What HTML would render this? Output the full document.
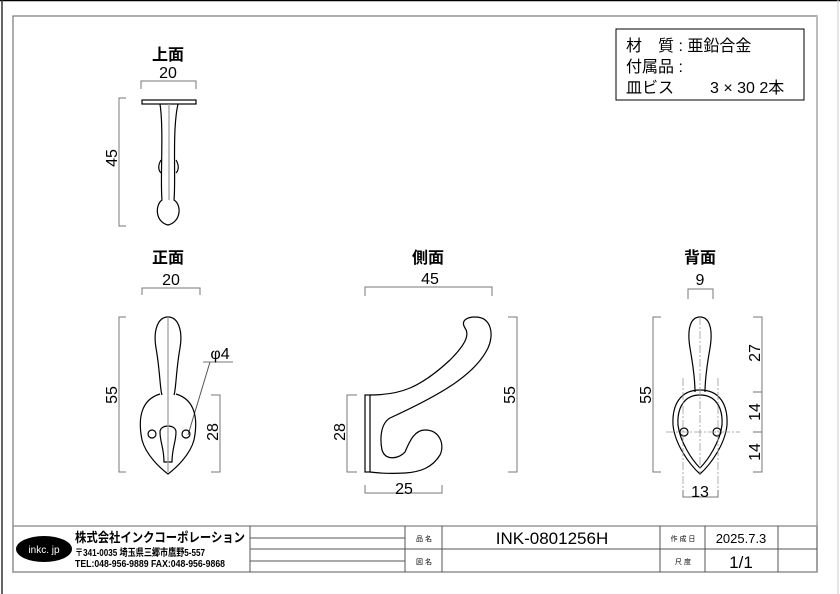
<!DOCTYPE html>
<html><head><meta charset="utf-8"><style>
html,body{margin:0;padding:0;background:#fff;}
svg{display:block;}
text{font-family:"Liberation Sans","Noto Sans CJK JP",sans-serif;fill:#000;}
</style></head><body>
<svg width="840" height="594" viewBox="0 0 840 594" xmlns="http://www.w3.org/2000/svg">
<line x1="0" y1="0.5" x2="840" y2="0.5" stroke="#000" stroke-width="1.5"/>
<line x1="2" y1="0" x2="2" y2="594" stroke="#333" stroke-width="1.5"/>
<line x1="838" y1="0" x2="838" y2="594" stroke="#ccc" stroke-width="1"/>
<rect x="13" y="16" width="804" height="556" fill="none" stroke="#777" stroke-width="1.2"/>
<line x1="817" y1="16" x2="817" y2="572" stroke="#bbb" stroke-width="2"/>

<rect x="616" y="29" width="188" height="71" fill="none" stroke="#000" stroke-width="1"/>
<text x="626" y="51" font-size="16">材　質 : 亜鉛合金</text>
<text x="626" y="72" font-size="16">付属品 :</text>
<text x="626" y="93" font-size="16">皿ビス</text>
<text x="710" y="93" font-size="16">3 × 30  2本</text>

<g fill="none" stroke="#777" stroke-width="1">
<polyline points="141,89 141,81 196,81 196,89"/>
<polyline points="126,98 119,98 119,226 126,226"/>
<polyline points="142,295 142,288 200,288 200,295"/>
<polyline points="126,317 119,317 119,472 126,472"/>
<polyline points="211,395 220,395 220,472 211,472"/>
<line x1="203" y1="362" x2="233" y2="362"/>
<line x1="210" y1="362" x2="188" y2="435" stroke="#555"/>
<polyline points="365,296 365,287 492,287 492,296"/>
<polyline points="365,485 365,493 442,493 442,485"/>
<polyline points="357,395 347,395 347,472 357,472"/>
<polyline points="508,317 517,317 517,472 508,472"/>
<polyline points="688,299 688,289 713,289 713,299"/>
<polyline points="661,317 653,317 653,472 661,472"/>
<polyline points="753,317 762,317 762,472 753,472"/>
<line x1="753" y1="392" x2="762" y2="392"/>
<line x1="753" y1="432" x2="762" y2="432"/>
<polyline points="683,490 683,497 718,497 718,490"/>
</g>

<g font-size="16" text-anchor="middle">
<text x="168" y="60" font-weight="bold">上面</text>
<text x="168" y="78">20</text>
<text x="168" y="263" font-weight="bold">正面</text>
<text x="171" y="285">20</text>
<text x="428" y="263" font-weight="bold">側面</text>
<text x="430" y="284">45</text>
<text x="404" y="494">25</text>
<text x="700" y="263" font-weight="bold">背面</text>
<text x="700" y="285">9</text>
<text x="700" y="497">13</text>
<text x="220" y="359">φ4</text>
<text transform="translate(117,158) rotate(-90)">45</text>
<text transform="translate(117,395) rotate(-90)">55</text>
<text transform="translate(218,432) rotate(-90)">28</text>
<text transform="translate(345,432) rotate(-90)">28</text>
<text transform="translate(515,395) rotate(-90)">55</text>
<text transform="translate(651,395) rotate(-90)">55</text>
<text transform="translate(760,353) rotate(-90)">27</text>
<text transform="translate(760,412) rotate(-90)">14</text>
<text transform="translate(760,452) rotate(-90)">14</text>
</g>

<g fill="none" stroke="#000" stroke-width="1.2">
<rect x="142" y="100" width="54" height="4"/>
<path d="M160,104 C164,130 160,180 162,200 C155,205 155,222 168,225 C181,222 182,205 174,200 C176,180 172,130 178,104"/>
<line x1="169" y1="104" x2="169" y2="200" stroke="#999"/>
<path d="M161,160 C158,165 158,170 161,173 M176,160 C179,165 179,170 176,173"/>
<path d="M168,317 C158,317 153,330 156,348 C160,370 160,390 162,395"/>
<path d="M168,317 C178,317 183,330 180,348 C176,370 176,390 174,395"/>
<path d="M160,394 C140,400 138,420 142,440 C146,455 160,468 168,474 C176,468 190,455 194,440 C198,420 196,400 176,394"/>
<path d="M160,432 C160,424 176,424 176,432 C176,442 172,448 172,462 L164,462 C164,448 160,442 160,432 Z"/>
<line x1="168" y1="317" x2="168" y2="472" stroke="#999"/>
<circle cx="152" cy="434" r="4"/>
<circle cx="186" cy="434" r="4"/>
<rect x="365" y="395" width="5" height="77"/>
<path d="M370,395 C400,395 420,388 450,360 C465,345 470,335 465,328 C460,320 468,317 475,317 C492,317 494,335 488,348 C475,375 440,395 390,418 C380,424 380,440 382,450 C386,462 400,458 405,452 C410,440 415,430 425,430 C440,430 445,445 440,455 C432,468 420,472 405,473 C390,474 378,473 370,472"/>
<path d="M700,317 C690,317 687,330 690,348 C693,365 695,380 695,392"/>
<path d="M700,317 C710,317 713,330 710,348 C707,365 705,380 705,392"/>
<path d="M700,390 C680,390 672,405 673,425 C675,445 690,465 700,474 C710,465 725,445 727,425 C728,405 720,390 700,390 Z"/>
<path d="M700,395 C684,395 677,408 678,425 C680,442 692,460 700,468 C708,460 720,442 722,425 C723,408 716,395 700,395 Z"/>
<circle cx="684" cy="432" r="4"/>
<circle cx="717" cy="432" r="4"/>
</g>
<g fill="none" stroke="#999" stroke-width="0.8" stroke-dasharray="8,2,2,2">
<line x1="700" y1="317" x2="700" y2="474"/>
<line x1="683" y1="378" x2="683" y2="490"/>
<line x1="718" y1="378" x2="718" y2="490"/>
<line x1="666" y1="432" x2="740" y2="432"/>
</g>

<g fill="none" stroke="#555" stroke-width="1">
<rect x="13" y="526" width="804" height="46" stroke="#999" stroke-width="1.5"/>
<line x1="250" y1="526" x2="250" y2="572"/>
<line x1="405" y1="526" x2="405" y2="572"/>
<line x1="442" y1="526" x2="442" y2="572"/>
<line x1="660" y1="526" x2="660" y2="572"/>
<line x1="705" y1="526" x2="705" y2="572"/>
<line x1="778" y1="526" x2="778" y2="572"/>
<line x1="250" y1="538" x2="405" y2="538"/>
<line x1="250" y1="549" x2="817" y2="549"/>
<line x1="250" y1="561" x2="405" y2="561"/>
</g>
<ellipse cx="44" cy="549" rx="28" ry="13" fill="#000"/>
<text x="44" y="553" font-size="10" text-anchor="middle" style="fill:#fff">inkc. jp</text>
<text x="75" y="542" font-size="13" font-weight="bold" textLength="170" lengthAdjust="spacingAndGlyphs">株式会社インクコーポレーション</text>
<text x="75" y="556" font-size="10" font-weight="bold" textLength="130" lengthAdjust="spacingAndGlyphs">〒341-0035 埼玉県三郷市鷹野5-557</text>
<text x="75" y="567" font-size="10" font-weight="bold" textLength="150" lengthAdjust="spacingAndGlyphs">TEL:048-956-9889  FAX:048-956-9868</text>
<text x="424" y="541" font-size="7" text-anchor="middle">品 名</text>
<text x="424" y="564" font-size="7" text-anchor="middle">図 名</text>
<text x="552" y="544" font-size="17" text-anchor="middle">INK-0801256H</text>
<text x="683" y="541" font-size="7" text-anchor="middle">作 成 日</text>
<text x="683" y="564" font-size="7" text-anchor="middle">尺 度</text>
<text x="741" y="543" font-size="13" text-anchor="middle">2025.7.3</text>
<text x="741" y="568" font-size="17" text-anchor="middle">1/1</text>
</svg>
</body></html>
